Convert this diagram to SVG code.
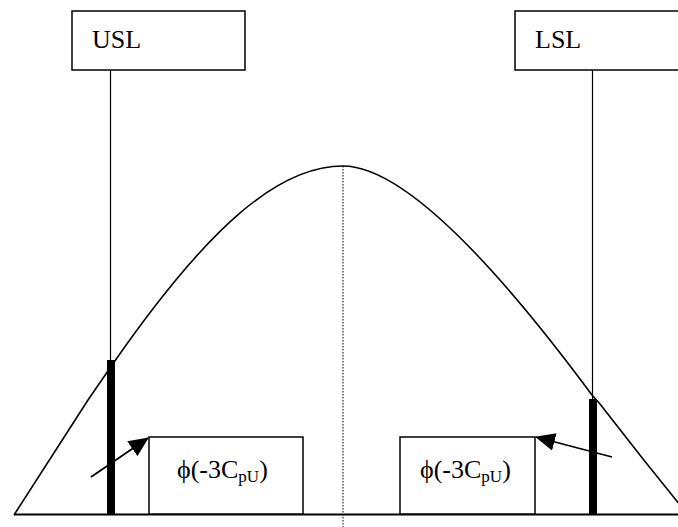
<svg xmlns="http://www.w3.org/2000/svg" width="678" height="527" viewBox="0 0 678 527">
<style>
.box{fill:#fff;stroke:#000;stroke-width:1.5}
.lbl{font-family:"Liberation Serif","Times New Roman",serif;font-size:26px;fill:#000}
.phi{font-family:"Liberation Serif","Times New Roman",serif;font-size:26px;fill:#000}
.thin{stroke:#000;stroke-width:1.2;fill:none}
.bar{fill:#000}
.arr{stroke:#000;stroke-width:1.8;fill:none;marker-end:url(#ah)}
</style>
<defs>
<marker id="ah" markerUnits="userSpaceOnUse" viewBox="0 0 20 18" refX="19" refY="9" markerWidth="20" markerHeight="18" orient="auto">
<path d="M0,0 L20,9 L0,18 z" fill="#000"/>
</marker>
</defs>
<rect width="678" height="527" fill="#fff"/>
<g id="curve">
<path d="M14,515 L88,400 L110,368 C210,223 280,166 343,166 C397,166 482,246.5 592,395 L600,404 L643,459 L680,505" fill="none" stroke="#000" stroke-width="1.6" stroke-linejoin="round"/>
<line x1="343" y1="166" x2="343" y2="527" stroke="#000" stroke-width="1" stroke-dasharray="1.5,1.5"/>
<line x1="14" y1="514.5" x2="678" y2="514.5" stroke="#000" stroke-width="2"/>
</g>
<g id="usl">
<rect class="box" x="72" y="11" width="173" height="59"/>
<text class="lbl" x="92" y="48">USL</text>
</g>
<g id="lsl">
<rect class="box" x="515" y="11" width="170" height="59"/>
<text class="lbl" x="535" y="48">LSL</text>
</g>
<g id="usl-line">
<line class="thin" x1="110.5" y1="70" x2="110.5" y2="360"/>
<rect class="bar" x="107" y="360" width="8" height="154"/>
</g>
<g id="lsl-line">
<line class="thin" x1="592.5" y1="70" x2="592.5" y2="399"/>
<rect class="bar" x="589" y="399" width="8" height="115"/>
</g>
<g id="phi-left">
<rect class="box" x="149" y="437" width="154" height="77"/>
<text class="phi" x="177" y="478">ϕ(-3C<tspan font-size="17" dy="4">pU</tspan><tspan dy="-4">)</tspan></text>
</g>
<g id="phi-right">
<rect class="box" x="400" y="437" width="135" height="77"/>
<text class="phi" x="420" y="478">ϕ(-3C<tspan font-size="17" dy="4">pU</tspan><tspan dy="-4">)</tspan></text>
</g>
<g id="connectors">
<line class="arr" x1="91" y1="477" x2="148" y2="438"/>
<line class="arr" x1="612" y1="457" x2="536" y2="437"/>
</g>
</svg>
